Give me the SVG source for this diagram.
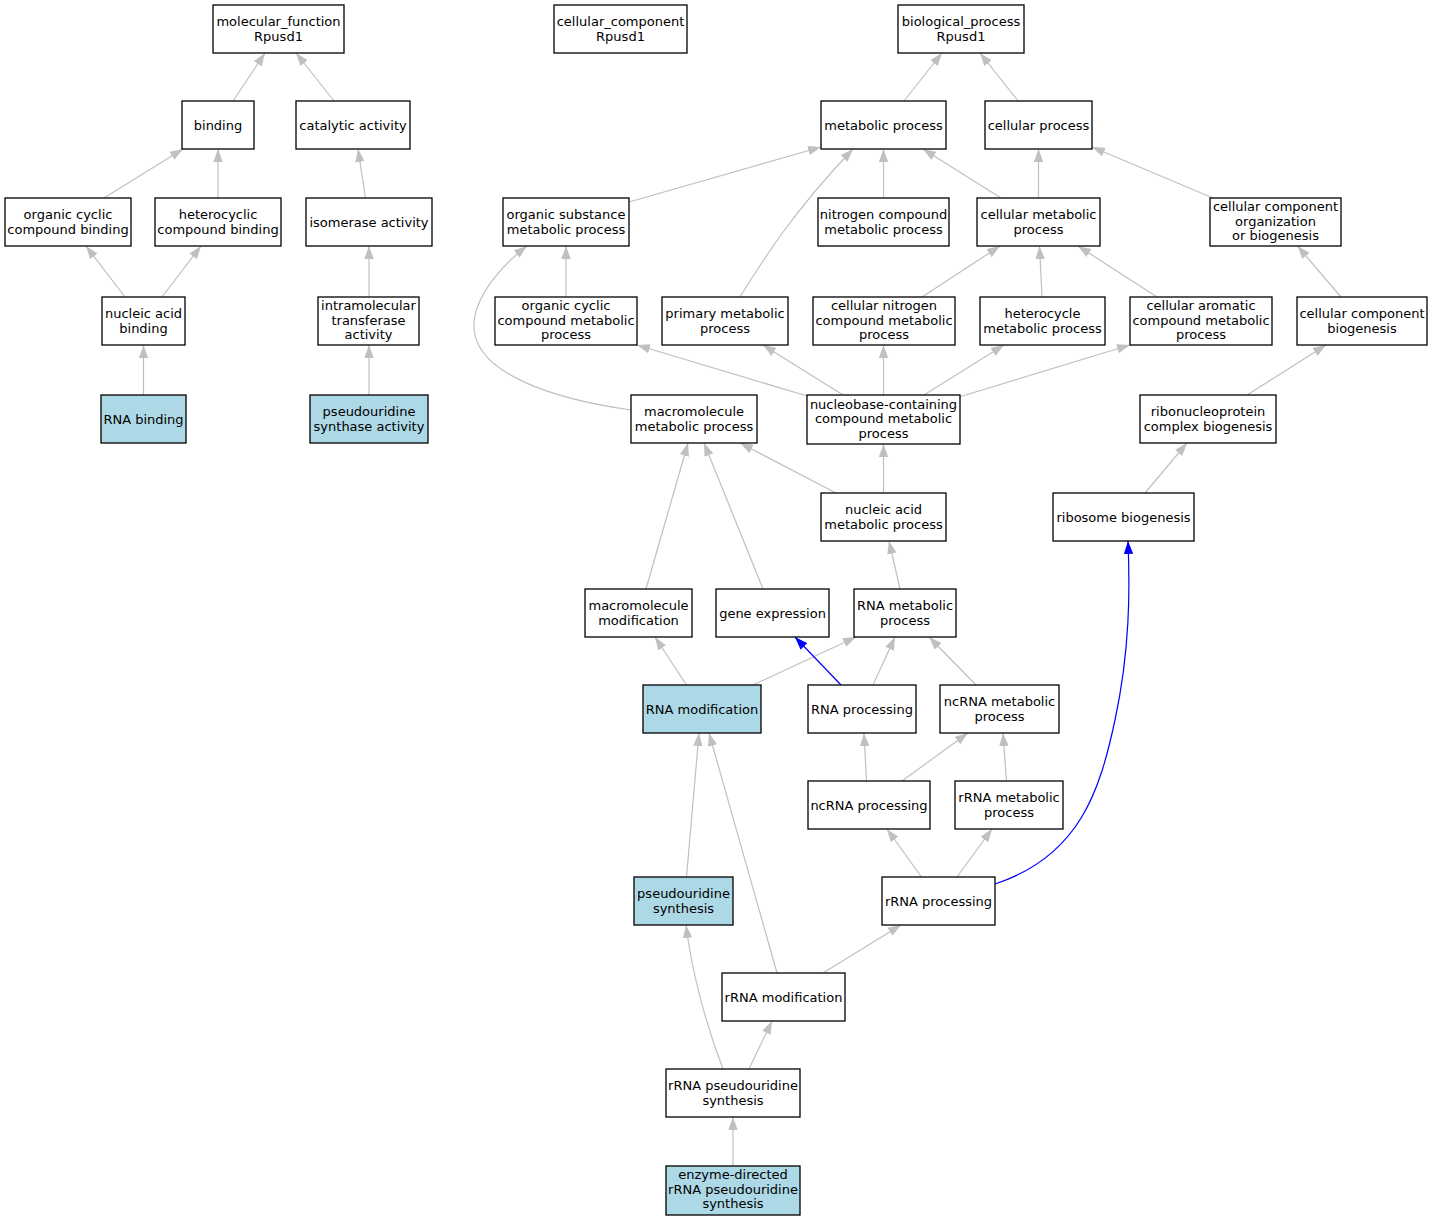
<svg xmlns="http://www.w3.org/2000/svg" width="1433" height="1221" viewBox="0 0 1433 1221">
<style>
.node rect{fill:#ffffff;stroke:#000000;stroke-width:1.3}
.node.hl rect{fill:#add8e6}
.node text{font-family:"DejaVu Sans","Liberation Sans",sans-serif;font-size:13px;fill:#000000;text-anchor:middle}
.edges line,.edges path{fill:none;stroke:#c0c0c0;stroke-width:1.2;marker-end:url(#ag)}
.edges .blue{stroke:#0000ff;marker-end:url(#ab)}
</style>
<defs>
<marker id="ag" markerUnits="userSpaceOnUse" markerWidth="13" markerHeight="10" viewBox="0 0 13 9.4" refX="13" refY="4.7" orient="auto"><path d="M0,0L13,4.7L0,9.4z" fill="#c0c0c0"/></marker>
<marker id="ab" markerUnits="userSpaceOnUse" markerWidth="13" markerHeight="10" viewBox="0 0 13 9.4" refX="13" refY="4.7" orient="auto"><path d="M0,0L13,4.7L0,9.4z" fill="#0000ff"/></marker>
</defs>
<rect width="1433" height="1221" fill="#ffffff"/>
<g id="connectors" class="edges">
<line x1="233" y1="101" x2="265" y2="53"/>
<line x1="334" y1="101" x2="296" y2="53"/>
<line x1="104" y1="198" x2="183" y2="149"/>
<line x1="218" y1="198" x2="218" y2="149"/>
<line x1="365.5" y1="198" x2="358" y2="149"/>
<line x1="125" y1="297" x2="86" y2="246"/>
<line x1="162" y1="297" x2="201" y2="246"/>
<line x1="369" y1="297" x2="369" y2="246"/>
<line x1="143.5" y1="395" x2="143.5" y2="345"/>
<line x1="369" y1="395" x2="369" y2="345"/>
<line x1="904" y1="101" x2="942" y2="53"/>
<line x1="1018" y1="101" x2="980" y2="53"/>
<line x1="629" y1="202" x2="821" y2="147"/>
<line x1="883.5" y1="198" x2="883.5" y2="149"/>
<line x1="1001" y1="198" x2="923" y2="149"/>
<path d="M740,297 C760,265 790,215 853,149"/>
<line x1="1038.5" y1="198" x2="1038.5" y2="149"/>
<line x1="1213" y1="198" x2="1092" y2="147"/>
<line x1="566" y1="297" x2="566" y2="246"/>
<line x1="922" y1="297" x2="1000" y2="246"/>
<line x1="1042" y1="297" x2="1039.5" y2="246"/>
<line x1="1157" y1="297" x2="1078" y2="246"/>
<line x1="1341" y1="297" x2="1297.5" y2="246"/>
<path d="M631,410 C560,400 470,375 474,322 C477,292 505,263 527,246"/>
<line x1="807" y1="396" x2="637" y2="345"/>
<line x1="843" y1="395" x2="763" y2="345"/>
<line x1="883.5" y1="395" x2="883.5" y2="345"/>
<line x1="924" y1="395" x2="1004" y2="345"/>
<line x1="959" y1="397" x2="1130" y2="345"/>
<line x1="1247" y1="395" x2="1326" y2="345"/>
<line x1="836" y1="493" x2="740" y2="443"/>
<line x1="883.5" y1="493" x2="883.5" y2="444"/>
<line x1="1145" y1="493" x2="1187" y2="443"/>
<line x1="646" y1="589" x2="688" y2="443"/>
<line x1="763" y1="589" x2="704" y2="443"/>
<line x1="900" y1="589" x2="889" y2="541"/>
<line x1="686.5" y1="685" x2="655" y2="637"/>
<line x1="753" y1="685" x2="856" y2="637"/>
<line class="blue" x1="841" y1="685" x2="795" y2="637"/>
<line x1="873" y1="685" x2="895" y2="637"/>
<line x1="976" y1="685" x2="929" y2="637"/>
<line x1="866.5" y1="781" x2="864" y2="733"/>
<line x1="902" y1="781" x2="968" y2="733"/>
<line x1="1006.5" y1="781" x2="1003" y2="733"/>
<line x1="686.5" y1="877" x2="699" y2="733"/>
<line x1="777" y1="973" x2="709" y2="733"/>
<line x1="921.5" y1="877" x2="887" y2="829"/>
<line x1="957" y1="877" x2="992" y2="829"/>
<path class="blue" d="M995,884 C1080,856 1100,790 1115,720 C1130,650 1130,590 1128,541"/>
<line x1="823" y1="973" x2="901" y2="925"/>
<path d="M723,1069 C708,1030 692,975 686,925"/>
<line x1="749" y1="1069" x2="772" y2="1021"/>
<line x1="733" y1="1166" x2="733" y2="1117"/>
</g>
<g id="n1" class="node"><rect x="213" y="5" width="131" height="48"/><text><tspan x="278.5" y="26">molecular_function</tspan><tspan x="278.5" y="40.5">Rpusd1</tspan></text></g>
<g id="n2" class="node"><rect x="554" y="5" width="133" height="48"/><text><tspan x="620.5" y="26">cellular_component</tspan><tspan x="620.5" y="40.5">Rpusd1</tspan></text></g>
<g id="n3" class="node"><rect x="898" y="5" width="126" height="48"/><text><tspan x="961" y="26">biological_process</tspan><tspan x="961" y="40.5">Rpusd1</tspan></text></g>
<g id="n4" class="node"><rect x="182" y="101" width="72" height="48"/><text x="218" y="129.5">binding</text></g>
<g id="n5" class="node"><rect x="296" y="101" width="114" height="48"/><text x="353" y="129.5">catalytic activity</text></g>
<g id="n6" class="node"><rect x="821" y="101" width="125" height="48"/><text x="883.5" y="129.5">metabolic process</text></g>
<g id="n7" class="node"><rect x="985" y="101" width="107" height="48"/><text x="1038.5" y="129.5">cellular process</text></g>
<g id="n8" class="node"><rect x="5" y="198" width="126" height="48"/><text><tspan x="68" y="219">organic cyclic</tspan><tspan x="68" y="233.5">compound binding</tspan></text></g>
<g id="n9" class="node"><rect x="155" y="198" width="126" height="48"/><text><tspan x="218" y="219">heterocyclic</tspan><tspan x="218" y="233.5">compound binding</tspan></text></g>
<g id="n10" class="node"><rect x="306" y="198" width="126" height="48"/><text x="369" y="226.5">isomerase activity</text></g>
<g id="n11" class="node"><rect x="503" y="198" width="126" height="48"/><text><tspan x="566" y="219">organic substance</tspan><tspan x="566" y="233.5">metabolic process</tspan></text></g>
<g id="n12" class="node"><rect x="818" y="198" width="131" height="48"/><text><tspan x="883.5" y="219">nitrogen compound</tspan><tspan x="883.5" y="233.5">metabolic process</tspan></text></g>
<g id="n13" class="node"><rect x="977" y="198" width="123" height="48"/><text><tspan x="1038.5" y="219">cellular metabolic</tspan><tspan x="1038.5" y="233.5">process</tspan></text></g>
<g id="n14" class="node"><rect x="1210" y="198" width="131" height="48"/><text><tspan x="1275.5" y="211">cellular component</tspan><tspan x="1275.5" y="225.5">organization</tspan><tspan x="1275.5" y="240">or biogenesis</tspan></text></g>
<g id="n15" class="node"><rect x="102" y="297" width="83" height="48"/><text><tspan x="143.5" y="318">nucleic acid</tspan><tspan x="143.5" y="332.5">binding</tspan></text></g>
<g id="n16" class="node"><rect x="318" y="297" width="101" height="48"/><text><tspan x="368.5" y="310">intramolecular</tspan><tspan x="368.5" y="324.5">transferase</tspan><tspan x="368.5" y="339">activity</tspan></text></g>
<g id="n17" class="node"><rect x="495" y="297" width="142" height="48"/><text><tspan x="566" y="310">organic cyclic</tspan><tspan x="566" y="324.5">compound metabolic</tspan><tspan x="566" y="339">process</tspan></text></g>
<g id="n18" class="node"><rect x="662" y="297" width="126" height="48"/><text><tspan x="725" y="318">primary metabolic</tspan><tspan x="725" y="332.5">process</tspan></text></g>
<g id="n19" class="node"><rect x="813" y="297" width="142" height="48"/><text><tspan x="884" y="310">cellular nitrogen</tspan><tspan x="884" y="324.5">compound metabolic</tspan><tspan x="884" y="339">process</tspan></text></g>
<g id="n20" class="node"><rect x="980" y="297" width="125" height="48"/><text><tspan x="1042.5" y="318">heterocycle</tspan><tspan x="1042.5" y="332.5">metabolic process</tspan></text></g>
<g id="n21" class="node"><rect x="1130" y="297" width="142" height="48"/><text><tspan x="1201" y="310">cellular aromatic</tspan><tspan x="1201" y="324.5">compound metabolic</tspan><tspan x="1201" y="339">process</tspan></text></g>
<g id="n22" class="node"><rect x="1297" y="297" width="130" height="48"/><text><tspan x="1362" y="318">cellular component</tspan><tspan x="1362" y="332.5">biogenesis</tspan></text></g>
<g id="n23" class="node hl"><rect x="101" y="395" width="85" height="48"/><text x="143.5" y="423.5">RNA binding</text></g>
<g id="n24" class="node hl"><rect x="310" y="395" width="118" height="48"/><text><tspan x="369" y="416">pseudouridine</tspan><tspan x="369" y="430.5">synthase activity</tspan></text></g>
<g id="n25" class="node"><rect x="631" y="395" width="126" height="48"/><text><tspan x="694" y="416">macromolecule</tspan><tspan x="694" y="430.5">metabolic process</tspan></text></g>
<g id="n26" class="node"><rect x="807" y="395" width="153" height="49"/><text><tspan x="883.5" y="408.5">nucleobase-containing</tspan><tspan x="883.5" y="423">compound metabolic</tspan><tspan x="883.5" y="437.5">process</tspan></text></g>
<g id="n27" class="node"><rect x="1140" y="395" width="136" height="48"/><text><tspan x="1208" y="416">ribonucleoprotein</tspan><tspan x="1208" y="430.5">complex biogenesis</tspan></text></g>
<g id="n28" class="node"><rect x="821" y="493" width="125" height="48"/><text><tspan x="883.5" y="514">nucleic acid</tspan><tspan x="883.5" y="528.5">metabolic process</tspan></text></g>
<g id="n29" class="node"><rect x="1053" y="493" width="141" height="48"/><text x="1123.5" y="521.5">ribosome biogenesis</text></g>
<g id="n30" class="node"><rect x="585" y="589" width="107" height="48"/><text><tspan x="638.5" y="610">macromolecule</tspan><tspan x="638.5" y="624.5">modification</tspan></text></g>
<g id="n31" class="node"><rect x="716" y="589" width="113" height="48"/><text x="772.5" y="617.5">gene expression</text></g>
<g id="n32" class="node"><rect x="854" y="589" width="102" height="48"/><text><tspan x="905" y="610">RNA metabolic</tspan><tspan x="905" y="624.5">process</tspan></text></g>
<g id="n33" class="node hl"><rect x="643" y="685" width="118" height="48"/><text x="702" y="713.5">RNA modification</text></g>
<g id="n34" class="node"><rect x="808" y="685" width="108" height="48"/><text x="862" y="713.5">RNA processing</text></g>
<g id="n35" class="node"><rect x="940" y="685" width="119" height="48"/><text><tspan x="999.5" y="706">ncRNA metabolic</tspan><tspan x="999.5" y="720.5">process</tspan></text></g>
<g id="n36" class="node"><rect x="808" y="781" width="122" height="48"/><text x="869" y="809.5">ncRNA processing</text></g>
<g id="n37" class="node"><rect x="955" y="781" width="108" height="48"/><text><tspan x="1009" y="802">rRNA metabolic</tspan><tspan x="1009" y="816.5">process</tspan></text></g>
<g id="n38" class="node hl"><rect x="634" y="877" width="99" height="48"/><text><tspan x="683.5" y="898">pseudouridine</tspan><tspan x="683.5" y="912.5">synthesis</tspan></text></g>
<g id="n39" class="node"><rect x="882" y="877" width="113" height="48"/><text x="938.5" y="905.5">rRNA processing</text></g>
<g id="n40" class="node"><rect x="722" y="973" width="123" height="48"/><text x="783.5" y="1001.5">rRNA modification</text></g>
<g id="n41" class="node"><rect x="666" y="1069" width="134" height="48"/><text><tspan x="733" y="1090">rRNA pseudouridine</tspan><tspan x="733" y="1104.5">synthesis</tspan></text></g>
<g id="n42" class="node hl"><rect x="666" y="1166" width="134" height="49"/><text><tspan x="733" y="1179">enzyme-directed</tspan><tspan x="733" y="1193.5">rRNA pseudouridine</tspan><tspan x="733" y="1208">synthesis</tspan></text></g>
</svg>
